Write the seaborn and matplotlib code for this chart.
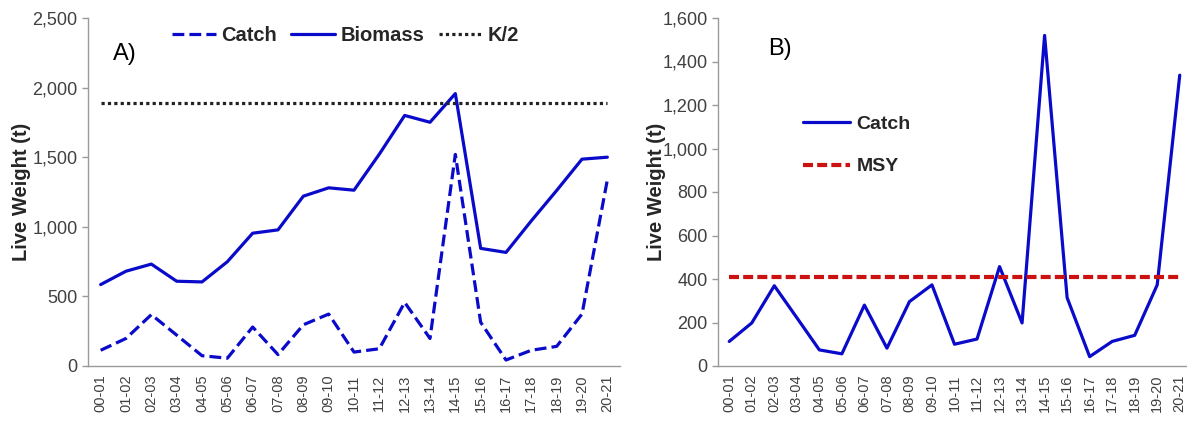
import numpy as np
import pandas as pd
import matplotlib
matplotlib.use('Agg')
import matplotlib.pyplot as plt
import seaborn as sns
from matplotlib.ticker import FuncFormatter

sns.set_style('white')
plt.rcParams['font.family'] = ['Liberation Sans Narrow', 'Liberation Sans', 'DejaVu Sans']

# --- Datos ---
seasons = ['00-01', '01-02', '02-03', '03-04', '04-05', '05-06', '06-07', '07-08',
           '08-09', '09-10', '10-11', '11-12', '12-13', '13-14', '14-15', '15-16',
           '16-17', '17-18', '18-19', '19-20', '20-21']
catch = [113, 198, 369, 222, 74, 56, 280, 82, 296, 373, 100, 124, 457, 198,
         1520, 314, 43, 113, 141, 373, 1337]
biomass = [585, 681, 732, 609, 604, 749, 954, 978, 1220, 1280, 1263, 1522, 1800,
           1751, 1957, 845, 816, 1043, 1261, 1486, 1500]
k_half = 1889
msy = 410

df = pd.DataFrame({'pos': np.arange(len(seasons)), 'season': seasons,
                   'Catch': catch, 'Biomass': biomass})
df['K/2'] = k_half
df['MSY'] = msy

blue = '#0A0ACB'
red = '#CC1111'
grey = '#9A9A9A'
txt = '#404040'
bold_font = ['Liberation Sans', 'DejaVu Sans']

fig = plt.figure(figsize=(11.87, 4.22), dpi=100)
W, H = 1187, 422
axA = fig.add_axes([88 / W, 1 - 366 / H, (620 - 88) / W, (366 - 18) / H])
axB = fig.add_axes([718 / W, 1 - 366 / H, (1191 - 718) / W, (366 - 18) / H])


def style_axis(ax, ymax, ystep, label_x):
    for s in ['top', 'right']:
        ax.spines[s].set_visible(False)
    for s in ['left', 'bottom']:
        ax.spines[s].set_color(grey)
        ax.spines[s].set_linewidth(1.0)
    ax.set_xlim(-0.5, len(seasons) - 0.5)
    ax.set_ylim(0, ymax)
    ax.set_yticks(np.arange(0, ymax + 1, ystep))
    ax.yaxis.set_major_formatter(FuncFormatter(lambda v, p: f'{int(v):,}'))
    ax.set_xticks(df['pos'])
    ax.set_xticklabels(seasons, rotation=90, fontsize=10.5, color=txt)
    ax.set_xticks(np.arange(-0.5, len(seasons), 1), minor=True)
    ax.tick_params(axis='x', which='major', length=0, pad=6)
    ax.tick_params(axis='x', which='minor', length=5, color=grey, width=1, direction='out')
    ax.tick_params(axis='y', length=4, color=grey, width=1, direction='out',
                   labelsize=13, labelcolor=txt, left=True)
    ax.set_xlabel('')
    ax.set_ylabel('Live Weight (t)', fontsize=14.5, fontweight='bold', family=bold_font)
    ax.yaxis.set_label_coords(label_x, 0.5)
    ax.grid(False)


# --- Panel A ---
sns.lineplot(data=df, x='pos', y='Catch', ax=axA, color=blue, lw=2.3, label='Catch')
axA.lines[-1].set_dashes((3.7, 1.6))
sns.lineplot(data=df, x='pos', y='Biomass', ax=axA, color=blue, lw=2.3, label='Biomass')
sns.lineplot(data=df, x='pos', y='K/2', ax=axA, color='#222222', lw=2.3, label='K/2')
axA.lines[-1].set_dashes((1, 1))
style_axis(axA, 2500, 500, (31 - 88) / 532)
fig.text(113 / W, 1 - 60 / H, 'A)', fontsize=17, color='black', family=bold_font,
         va='baseline', ha='left')
axA.legend(loc='upper left', bbox_to_anchor=(172 / W, 1 - 26 / H),
           bbox_transform=fig.transFigure, ncol=3, frameon=False, borderpad=0,
           borderaxespad=0, handlelength=2.2, columnspacing=0.7, handletextpad=0.25,
           prop={'family': bold_font, 'weight': 'bold', 'size': 14.5})

# --- Panel B ---
sns.lineplot(data=df, x='pos', y='Catch', ax=axB, color=blue, lw=2.3, label='Catch')
sns.lineplot(data=df, x='pos', y='MSY', ax=axB, color=red, lw=3, label='MSY')
axB.lines[-1].set_dashes((2.4, 1))
style_axis(axB, 1600, 200, (666 - 718) / 473)
fig.text(768 / W, 1 - 55 / H, 'B)', fontsize=17, color='black', family=bold_font,
         va='baseline', ha='left')
axB.legend(loc='upper left', bbox_to_anchor=(803 / W, 1 - 115 / H),
           bbox_transform=fig.transFigure, ncol=1, frameon=False, borderpad=0,
           borderaxespad=0, handlelength=2.4, handletextpad=0.35, labelspacing=1.3,
           prop={'family': bold_font, 'weight': 'bold', 'size': 14})

fig.savefig('out.png', dpi=100)
